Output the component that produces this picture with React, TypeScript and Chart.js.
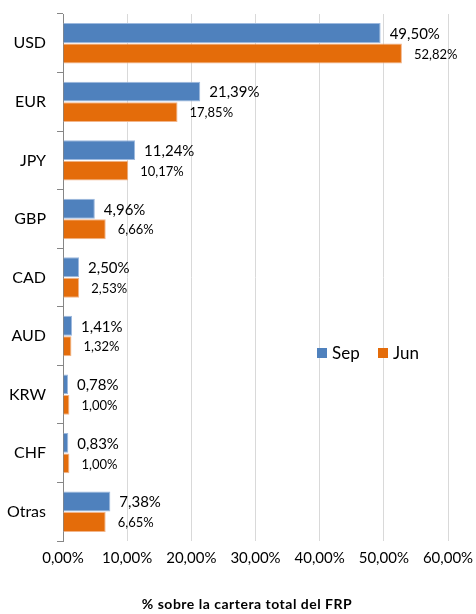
import React, { useEffect, useRef } from "react";
import { Chart, registerables } from "chart.js";

Chart.register(...registerables);

const categories = ["USD", "EUR", "JPY", "GBP", "CAD", "AUD", "KRW", "CHF", "Otras"];
const sepValues = [49.5, 21.39, 11.24, 4.96, 2.5, 1.41, 0.78, 0.83, 7.38];
const junValues = [52.82, 17.85, 10.17, 6.66, 2.53, 1.32, 1.0, 1.0, 6.65];
const seriesNames = ["Sep", "Jun"];
const axisTitle = "% sobre la cartera total del FRP";

const BLUE = "#4F81BD";
const ORANGE = "#E46C0A";
const FONT = "Lato, 'Noto Sans', sans-serif";

const fmt = (v: number) => v.toFixed(2).replace(".", ",") + "%";

const labelPlugin = {
  id: "barLabels",
  afterDatasetsDraw(chart: any) {
    const ctx = chart.ctx;
    ctx.save();
    ctx.fillStyle = "#000";
    ctx.textBaseline = "middle";
    ctx.textAlign = "left";
    chart.data.datasets.forEach((ds: any, di: number) => {
      const meta = chart.getDatasetMeta(di);
      meta.data.forEach((el: any, i: number) => {
        const v = ds.data[i];
        if (di === 0) {
          ctx.font = `15px ${FONT}`;
          ctx.fillText(fmt(v), el.x + 9, el.y + 1);
        } else {
          ctx.font = `13px ${FONT}`;
          ctx.fillText(fmt(v), el.x + 12, el.y + 1);
        }
      });
    });
    ctx.restore();
  },
};

const legendPlugin = {
  id: "insideLegend",
  afterDraw(chart: any) {
    const ctx = chart.ctx;
    ctx.save();
    const items = [
      { name: seriesNames[0], color: BLUE, x: 317 },
      { name: seriesNames[1], color: ORANGE, x: 378 },
    ];
    ctx.font = `17px ${FONT}`;
    ctx.textBaseline = "middle";
    ctx.textAlign = "left";
    items.forEach((it) => {
      ctx.fillStyle = it.color;
      ctx.fillRect(it.x, 348, 10, 10);
      ctx.fillStyle = "#000";
      ctx.fillText(it.name, it.x + 15, 354);
    });
    // axis title
    ctx.font = `bold 14px ${FONT}`;
    (ctx as any).letterSpacing = "0.5px";
    ctx.textAlign = "center";
    ctx.fillText(axisTitle, 247, 604);
    ctx.restore();
  },
};

export default function App() {
  const ref = useRef<HTMLCanvasElement | null>(null);
  useEffect(() => {
    document.body.style.margin = "0";
    if (!ref.current) return;
    const chart = new Chart(ref.current, {
      type: "bar",
      data: {
        labels: categories,
        datasets: [
          {
            label: seriesNames[0],
            data: sepValues,
            backgroundColor: BLUE,
            borderColor: "#9DB9DE",
            borderWidth: 1,
            categoryPercentage: 0.7,
            barPercentage: 0.97,
          },
          {
            label: seriesNames[1],
            data: junValues,
            backgroundColor: ORANGE,
            borderColor: "#F2B58A",
            borderWidth: 1,
            categoryPercentage: 0.7,
            barPercentage: 0.97,
          },
        ],
      },
      options: {
        indexAxis: "y",
        animation: false,
        responsive: false,
        maintainAspectRatio: false,
        layout: { padding: { top: 14, right: 28, left: 0, bottom: 0 } },
        plugins: {
          legend: { display: false },
          tooltip: { enabled: false },
        },
        scales: {
          x: {
            min: 0,
            max: 60,
            ticks: {
              stepSize: 10,
              callback: (v: any) => fmt(Number(v)),
              font: { family: FONT, size: 15 },
              color: "#000",
              padding: 8,
              maxRotation: 0,
            },
            grid: { color: "#D9D9D9", drawTicks: false },
            border: { display: false },
            afterFit: (s: any) => {
              s.height = 73;
              s.paddingLeft = 0;
              s.paddingRight = 0;
            },
          },
          y: {
            ticks: {
              font: { family: FONT, size: 16 },
              color: "#000",
              padding: 11,
            },
            grid: {
              drawOnChartArea: false,
              tickLength: 6,
              color: "#868686",
            },
            border: { display: true, color: "#868686" },
            afterFit: (s: any) => {
              s.width = 63;
              s.paddingTop = 0;
              s.paddingBottom = 0;
            },
          },
        },
      },
      plugins: [labelPlugin, legendPlugin],
    } as any);
    return () => chart.destroy();
  }, []);
  return (
    <div style={{ width: 476, height: 614 }}>
      <canvas ref={ref} width={476} height={614} style={{ display: "block" }} />
    </div>
  );
}
